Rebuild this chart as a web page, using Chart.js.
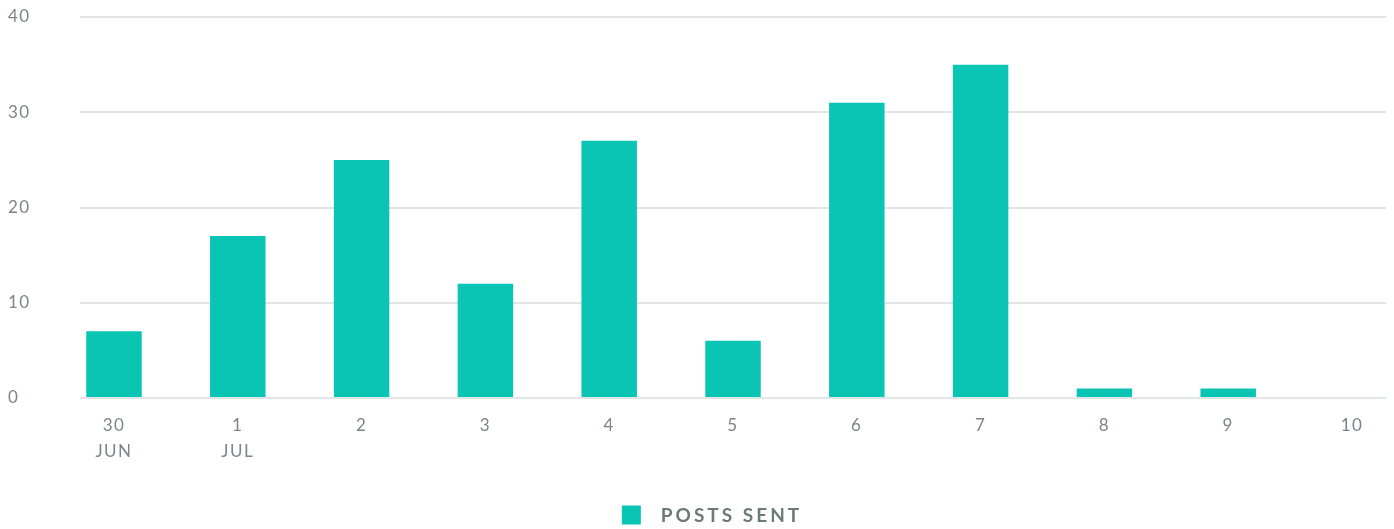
<!DOCTYPE html>
<html>
<head>
<meta charset="utf-8">
<script src="https://cdn.jsdelivr.net/npm/chart.js@4"></script>
<style>
    html, body { margin: 0; padding: 0; background: #fff; }
    #wrap { width: 1394px; height: 529px; }
</style>
</head>
<body>
<div id="wrap"><canvas id="postsChart" width="1394" height="529"></canvas></div>
<script>
// Данные графика
const days = ['30', '1', '2', '3', '4', '5', '6', '7', '8', '9', '10'];
const months = ['JUN', 'JUL', '', '', '', '', '', '', '', '', ''];
const postsSent = [7, 17, 25, 12, 27, 6, 31, 35, 1, 1, 0];
const yTicks = [0, 10, 20, 30, 40];

const barColor = '#0ac5b4';
const tickColor = '#7b8686';
const gridColor = '#e1e5e5';

// Межбуквенный интервал как в оригинале
const spacingPlugin = {
    id: 'spacing',
    beforeUpdate(chart) { chart.ctx.letterSpacing = '1.5px'; },
    beforeDraw(chart) { chart.ctx.letterSpacing = '1.5px'; }
};

// Легенда внизу: квадрат и подпись
const bottomLegend = {
    id: 'bottomLegend',
    afterDraw(chart) {
        const ctx = chart.ctx;
        const ds = chart.data.datasets[0];
        ctx.save();
        ctx.font = 'bold 19px Lato';
        ctx.letterSpacing = '3px';
        const textW = ctx.measureText(ds.label).width;
        const box = 19, gap = 20;
        const total = box + gap + textW;
        const x0 = chart.width / 2 - total / 2 + 15;
        const yc = chart.height - 14;
        ctx.fillStyle = ds.backgroundColor;
        ctx.fillRect(x0, yc - box / 2, box, box);
        ctx.fillStyle = '#6d7a7a';
        ctx.textBaseline = 'middle';
        ctx.textAlign = 'left';
        ctx.fillText(ds.label, x0 + box + gap, yc + 1);
        ctx.restore();
    }
};

document.addEventListener('DOMContentLoaded', function() {
    const ctx = document.getElementById('postsChart').getContext('2d');
    new Chart(ctx, {
        type: 'bar',
        data: {
            datasets: [{
                label: 'POSTS SENT',
                data: postsSent.map((v, i) => ({ x: i, y: v })),
                backgroundColor: barColor,
                borderWidth: 0,
                categoryPercentage: 1,
                barPercentage: 0.448
            }]
        },
        options: {
            responsive: false,
            animation: false,
            layout: { padding: { left: 8, right: 8, top: 17, bottom: 0 } },
            plugins: {
                legend: { display: false },
                tooltip: { enabled: false }
            },
            scales: {
                x: {
                    type: 'linear',
                    offset: false,
                    min: -0.2746,
                    max: days.length - 1 + 0.2746,
                    grid: { display: false, drawTicks: false },
                    border: { display: false },
                    afterFit(scale) { scale.height = 131; },
                    ticks: {
                        stepSize: 1,
                        includeBounds: false,
                        autoSkip: false,
                        maxRotation: 0,
                        padding: 14,
                        color: tickColor,
                        font: { family: 'Lato', size: 17, lineHeight: 1.55 },
                        callback(v) {
                            if (!Number.isInteger(v) || v < 0 || v >= days.length) return '';
                            return months[v] ? [days[v], months[v]] : days[v];
                        }
                    }
                },
                y: {
                    min: yTicks[0],
                    max: yTicks[yTicks.length - 1],
                    grid: { color: gridColor, lineWidth: 2, drawTicks: false },
                    border: { display: false },
                    afterFit(scale) { scale.width = 72; },
                    ticks: {
                        stepSize: 10,
                        crossAlign: 'far',
                        color: tickColor,
                        font: { family: 'Lato', size: 17 }
                    }
                }
            }
        },
        plugins: [spacingPlugin, bottomLegend]
    });
});
</script>
</body>
</html>
